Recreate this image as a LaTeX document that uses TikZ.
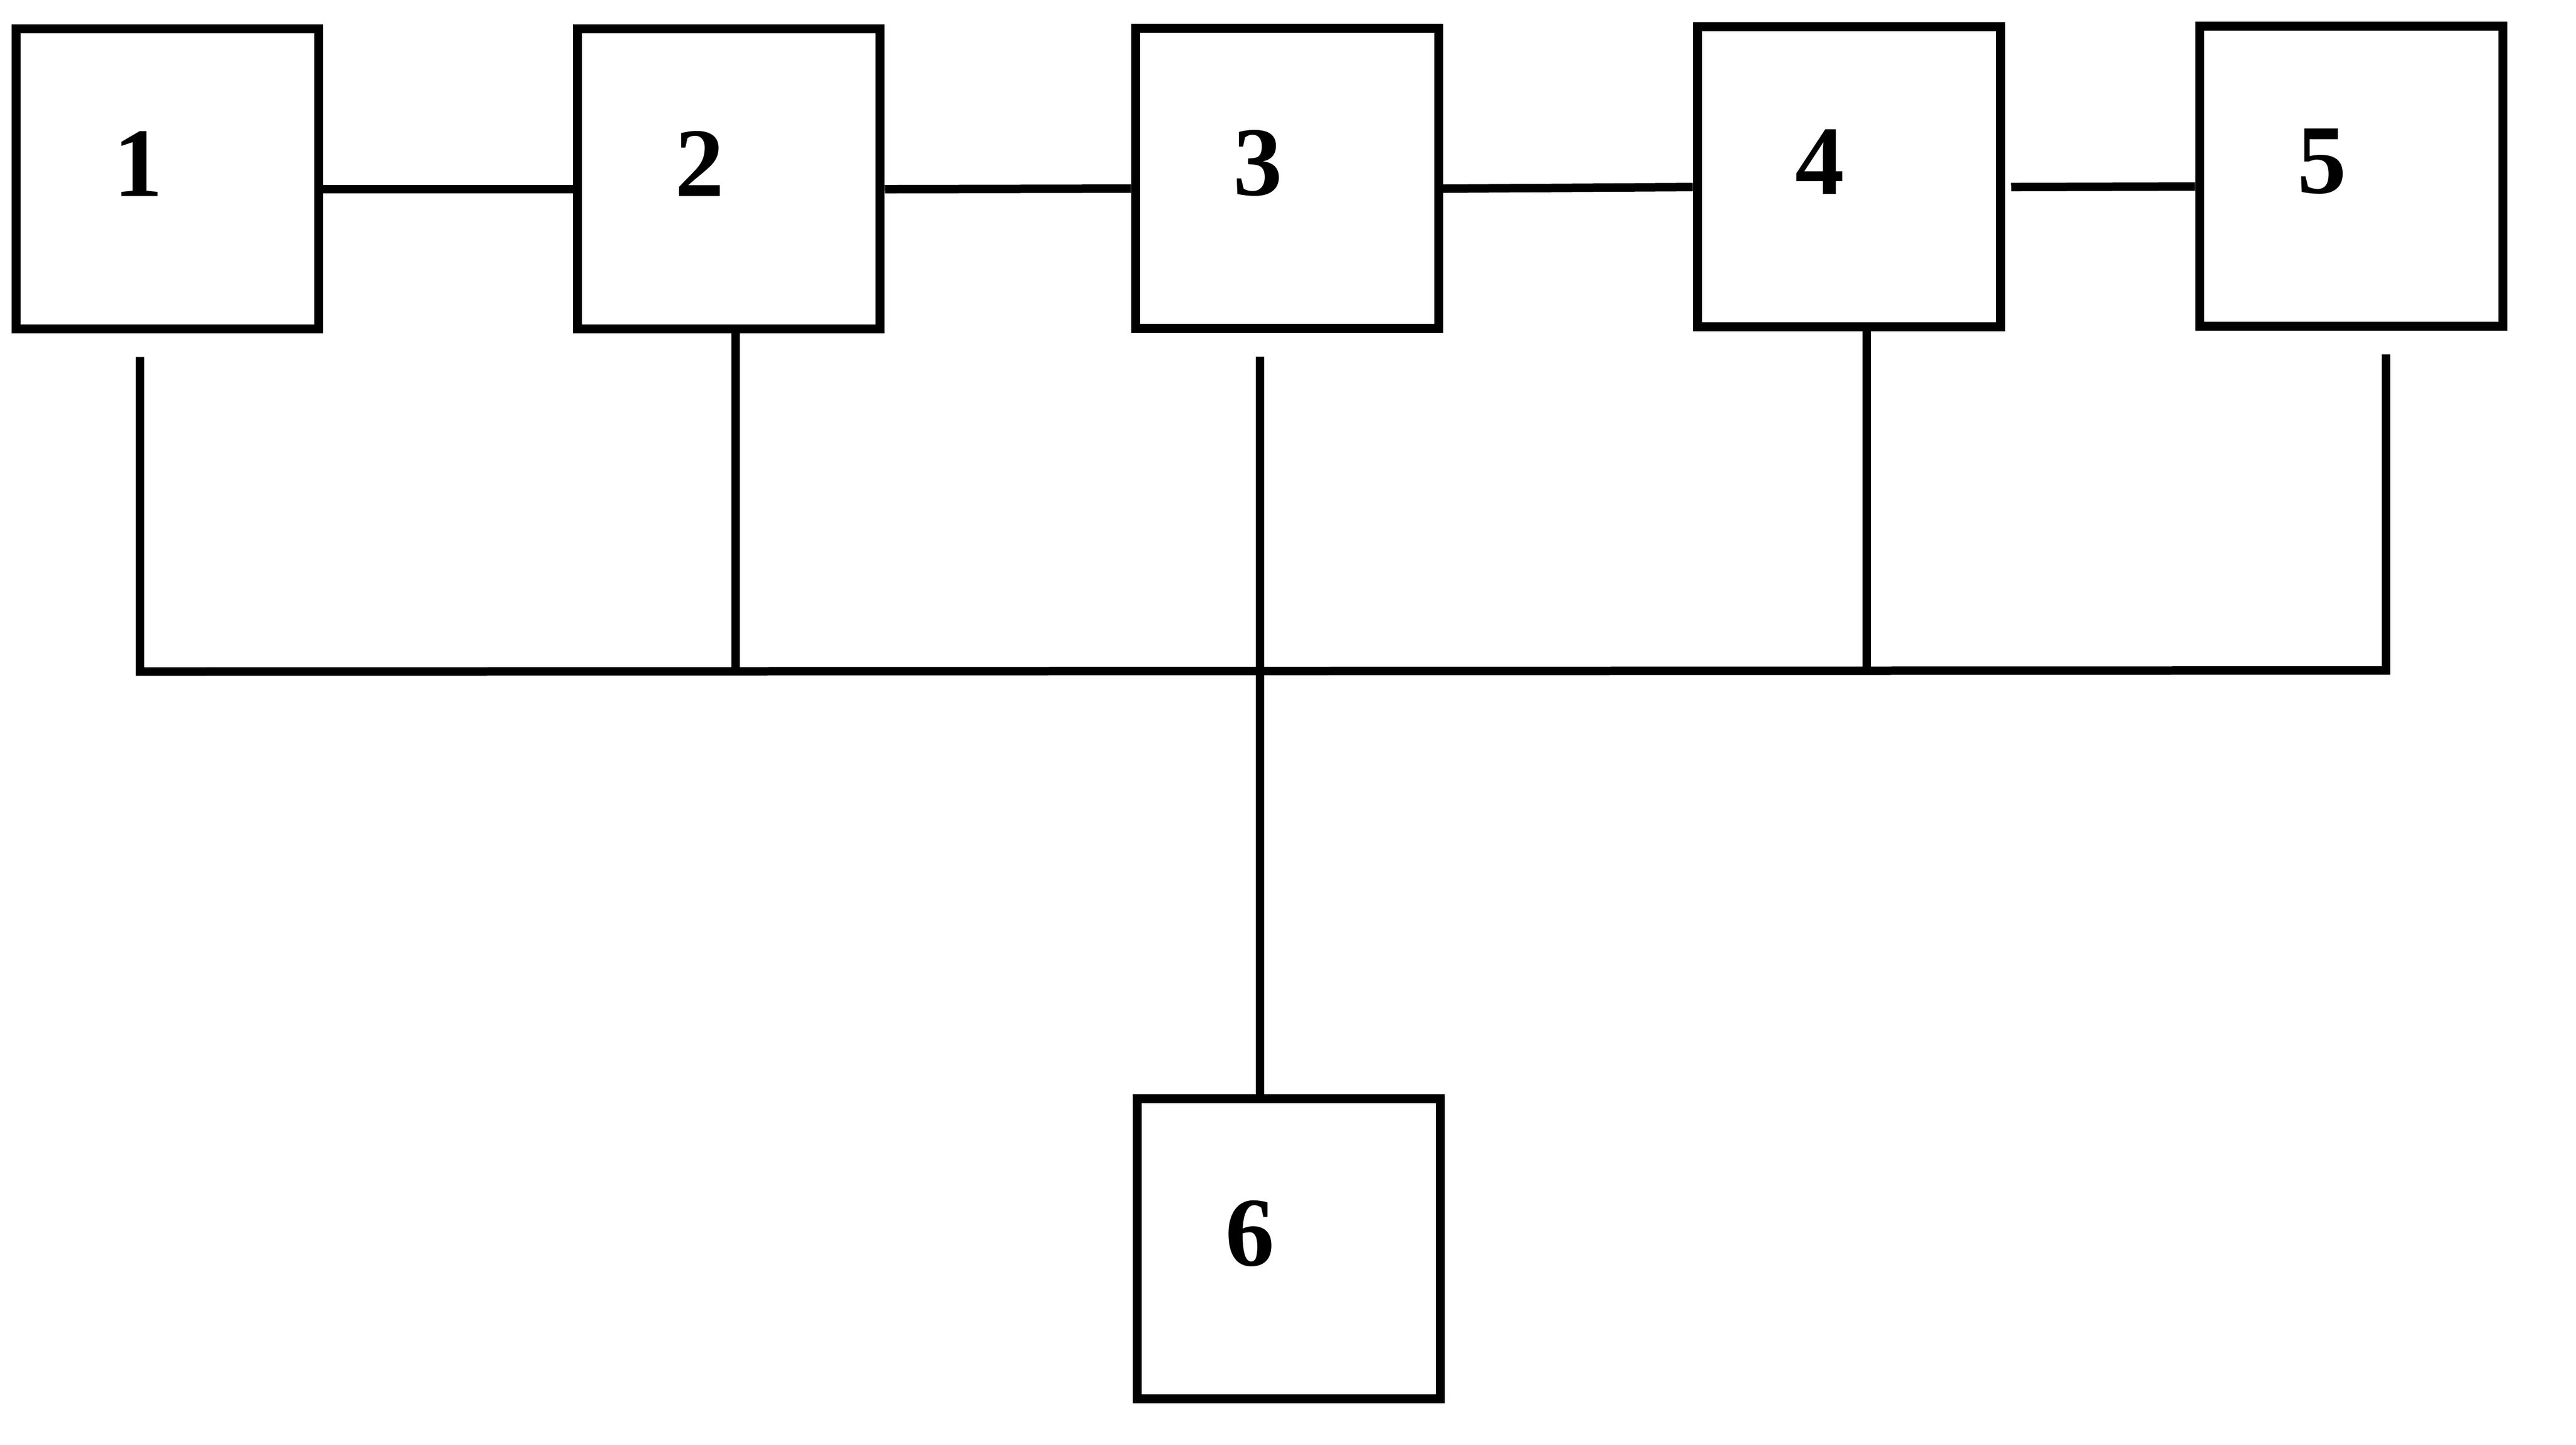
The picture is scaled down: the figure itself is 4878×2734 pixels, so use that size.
\documentclass[tikz,border=0pt]{standalone}
\usepackage{fontspec}
\setmainfont{Liberation Serif}
\usetikzlibrary{calc}
\tikzset{
  block/.style={draw, line width=1.7pt, minimum width=57.4pt, minimum height=56.8pt, inner sep=0pt},
  num/.style={font=\fontsize{18.6}{20}\selectfont\bfseries, inner sep=0pt},
  wire/.style={line width=1.6pt}
}
\begin{document}
\begin{tikzpicture}[x=0.1pt, y=-0.1pt]
  \useasboundingbox (0,0) rectangle (4878,2734);

  % blocks in the top row
  \foreach \i/\x/\y in {1/317/338, 2/1380/338, 3/2437/337, 4/3501/334, 5/4452/333}{
    \node[block] (b\i) at (\x,\y) {};
    \node[num] (n\i) at ($(b\i.center)+(-55,-28)$) {\i};
  }
  \node[block] (b6) at (2440,2363) {};
  \node[num] (n6) at ($(b6.center)+(-73,-28)$) {6};

  % top row links
  \draw[wire] ([yshift=-2pt]b1.east) -- ([yshift=-2pt]b2.west);
  \draw[wire] ([yshift=-2pt]b2.east) -- ([yshift=-2pt]b3.west);
  \draw[wire] ([yshift=-2pt]b3.east) -- ([yshift=-2pt]b4.west);
  \draw[wire] ([yshift=-2pt,xshift=1.2pt]b4.east) -- ([yshift=-2pt]b5.west);

  % bus
  \coordinate (j1) at (265,1271);
  \coordinate (j2) at (1393,1271);
  \coordinate (j3) at (2386,1271);
  \coordinate (j4) at (3535,1271);
  \coordinate (j5) at (4518,1269);
  \draw[wire] ($(b1.south -| j1)+(0,45)$) -- (j1) -- (j5) -- ($(b5.south -| j5)+(0,45)$);
  \draw[wire] (b2.south -| j2) -- (j2);
  \draw[wire] (b4.south -| j4) -- (j4);
  \draw[wire] ($(b3.south -| j3)+(0,45)$) -- (b6.north -| j3);

\end{tikzpicture}
\end{document}
